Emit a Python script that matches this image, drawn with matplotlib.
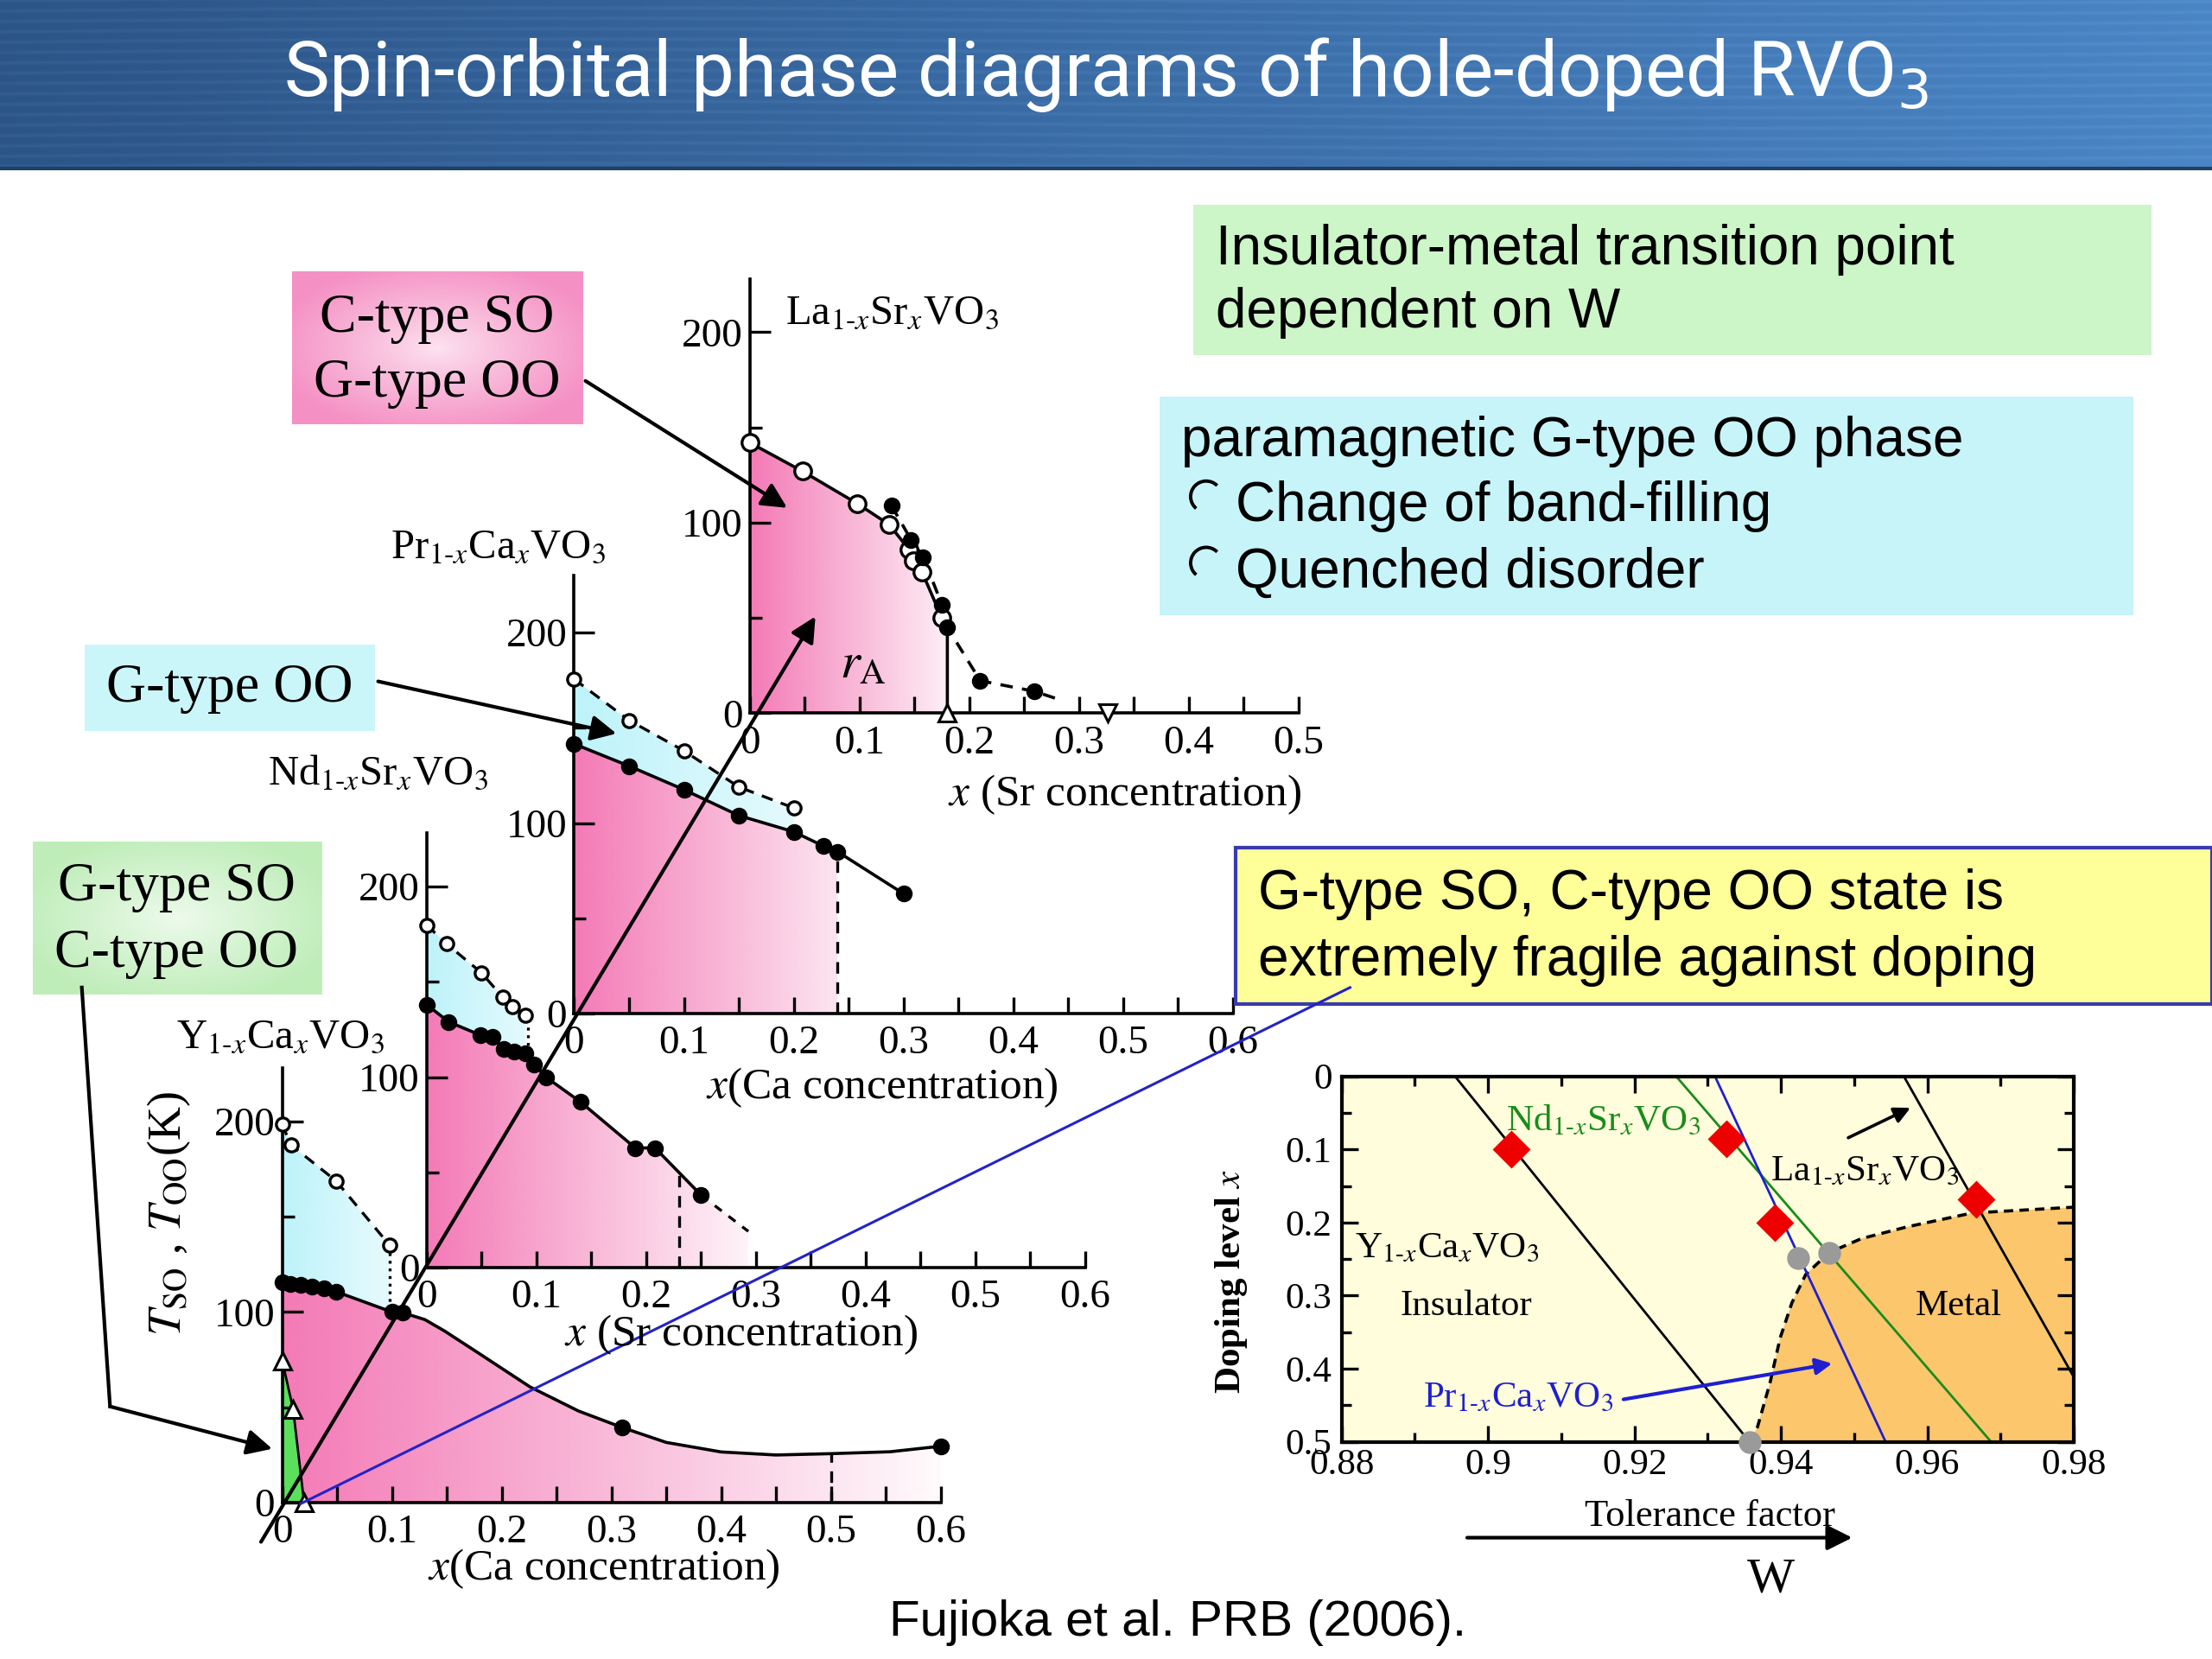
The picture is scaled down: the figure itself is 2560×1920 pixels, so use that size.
import numpy as np
import matplotlib
matplotlib.use('Agg')
import matplotlib.pyplot as plt
from matplotlib.patches import Polygon, Rectangle, Arc
from matplotlib.colors import to_rgb

plt.rcParams['font.family'] = ['Liberation Serif', 'DejaVu Serif']
plt.rcParams['mathtext.fontset'] = 'stix'

# layout grid of the slide (reference pixels, y downwards)
W, H = 1568, 1176
PX = 778.0   # px per unit of x in the four T-x panels
PY = 1.35    # px per kelvin

# ---------------- data ----------------
# La(1-x)Sr(x)VO3
la_open_x = [0, 0.048, 0.098, 0.127, 0.145, 0.149, 0.157, 0.175]
la_open_t = [142, 127, 110, 99, 86, 80, 74, 50]
la_fill_x = [0.129, 0.147, 0.158, 0.175, 0.180, 0.21, 0.259]
la_fill_t = [109, 91, 82, 57, 45, 17, 11.5]
la_solid_x = la_open_x + [0.180, 0.180]
la_solid_t = la_open_t + [42, 0]
la_dash_x = la_fill_x + [0.28]
la_dash_t = la_fill_t + [7.5]
la_tri_up = (0.18, 0)
la_tri_down = (0.326, 0)

# Pr(1-x)Ca(x)VO3
pr_open_x = [0, 0.05, 0.10, 0.15, 0.20]
pr_open_t = [175.6, 154, 138, 119, 108]
pr_fill_x = [0, 0.05, 0.10, 0.15, 0.20, 0.227, 0.24, 0.30]
pr_fill_t = [141.6, 130, 117.6, 104, 95.5, 88, 85, 63]
pr_xc = 0.24

# Nd(1-x)Sr(x)VO3
nd_open_x = [0, 0.018, 0.05, 0.069, 0.078, 0.09]
nd_open_t = [179.8, 170, 154.7, 142, 137, 132.5]
nd_fill_x = [0, 0.02, 0.049, 0.06, 0.07, 0.08, 0.09, 0.098, 0.109, 0.14, 0.19, 0.208, 0.25]
nd_fill_t = [138, 129, 122, 121, 114.8, 113.5, 112.3, 106.6, 99.8, 87, 62.8, 62.8, 38]
nd_tail_x = [0.25, 0.293]
nd_tail_t = [38, 19]
nd_xc = 0.23

# Y(1-x)Ca(x)VO3
y_open_x = [0, 0.008, 0.049, 0.098]
y_open_t = [198.5, 187.7, 168.9, 135]
y_fill_x = [0, 0.0075, 0.017, 0.027, 0.038, 0.049, 0.10, 0.11, 0.31, 0.60]
y_fill_t = [115.5, 114.9, 114.4, 113.3, 112.2, 110.7, 100, 99.6, 39.3, 29.5]
y_curve_x = [0.11, 0.13, 0.148, 0.18, 0.226, 0.27, 0.31, 0.35, 0.40, 0.45, 0.50, 0.554, 0.60]
y_curve_t = [99.6, 96, 90, 78, 60.6, 48, 39.3, 31.5, 26.5, 24.9, 25.6, 26.6, 29.5]
y_tri_x = [0, 0.01, 0.02]
y_tri_t = [74.5, 49, 0]
y_xc = 0.50

# tolerance factor vs doping level
t_y_line = ([0.8955, 0.9357], [0, 0.5])
t_nd_line = ([0.9257, 0.9687], [0, 0.5])
t_pr_line = ([0.9310, 0.9543], [0, 0.5])
t_la_line = ([0.9568, 0.9850], [0, 0.5])
t_red_x = [0.9032, 0.9325, 0.9392, 0.9667]
t_red_dop = [0.10, 0.085, 0.20, 0.168]
t_grey_x = [0.9357, 0.9424, 0.9466]
t_grey_dop = [0.5, 0.249, 0.241]
t_bound_x = [0.9357, 0.9368, 0.9385, 0.9399, 0.9415, 0.9434, 0.9466, 0.951, 0.9572, 0.9661, 0.98]
t_bound_dop = [0.5, 0.48, 0.42, 0.358, 0.31, 0.271, 0.241, 0.222, 0.206, 0.187, 0.179]

PINK = '#F47AB6'
CYAN = '#BDF3FA'
SUB = '$_{1‐x}$'   # subscript "1-x" with a real hyphen


def formula(a, b):
    return a + SUB + b + '$_x$VO$_3$'


fig = plt.figure(figsize=(12.8, 9.6), dpi=200)


def grad_fill(ax, xs, ys, color, x_end, a0=1.0, a1=0.0):
    poly = Polygon(np.column_stack([xs, ys]), closed=True, facecolor='none', edgecolor='none')
    ax.add_patch(poly)
    img = np.zeros((2, 256, 4))
    img[..., :3] = to_rgb(color)
    img[..., 3] = np.linspace(a0, a1, 256)
    im = ax.imshow(img, extent=[0, x_end, 0, 260], aspect='auto', interpolation='bilinear', zorder=0.5)
    im.set_clip_path(poly)


def make_panel(ox, oy, xmax, ymax):
    ax = fig.add_axes([ox / W, 1 - oy / H, xmax * PX / W, ymax * PY / H])
    ax.patch.set_alpha(0)
    for s in ['top', 'right']:
        ax.spines[s].set_visible(False)
    for s in ['left', 'bottom']:
        ax.spines[s].set_linewidth(1.3)
    xt = np.round(np.arange(0, xmax + 0.001, 0.1), 2)
    ax.set_xticks(xt)
    ax.set_xticklabels(['0' if v == 0 else '%.1f' % v for v in xt])
    ax.set_xticks(np.round(np.arange(0.05, xmax, 0.1), 2), minor=True)
    ax.set_yticks([0, 100, 200])
    ax.set_yticklabels(['0', '100', '200'])
    ax.set_yticks([50, 150], minor=True)
    ax.tick_params(which='both', direction='in', width=1.2, labelsize=17)
    ax.tick_params(axis='y', which='major', length=8.5, pad=3)
    ax.tick_params(axis='y', which='minor', length=5)
    ax.tick_params(axis='x', which='both', length=7, pad=5)
    return ax


def finish(ax, xmax, ymax):
    ax.set_xlim(0, xmax)
    ax.set_ylim(0, ymax)


mk_f = dict(marker='o', ms=6, mfc='k', mec='k', ls='none', zorder=4, clip_on=False)
mk_o = dict(marker='o', ms=5.5, mfc='white', mec='k', mew=1.2, ls='none', zorder=4, clip_on=False)
mk_t = dict(ms=7, mfc='white', mec='k', mew=1.1, ls='none', zorder=5, clip_on=False)

# ---- La panel ----
ax_la = make_panel(531.5, 505.5, 0.5, 228)
grad_fill(ax_la, [0] + la_solid_x, [0] + la_solid_t, PINK, 0.2, 1.0, 0.03)
ax_la.plot(la_solid_x, la_solid_t, 'k-', lw=1.3, clip_on=False)
ax_la.plot(la_dash_x, la_dash_t, 'k--', lw=1.3, dashes=(4, 3), clip_on=False)
ax_la.plot(la_open_x, la_open_t, **dict(mk_o, ms=7))
ax_la.plot(la_fill_x, la_fill_t, **mk_f)
ax_la.plot(*la_tri_up, marker='^', **mk_t)
ax_la.plot(*la_tri_down, marker='v', **mk_t)
finish(ax_la, 0.5, 228)

# ---- Pr panel ----
ax_pr = make_panel(407, 718.5, 0.6, 230)
k = pr_fill_x.index(pr_xc)
grad_fill(ax_pr, [0] + pr_fill_x[:k + 1] + [pr_xc], [0] + pr_fill_t[:k + 1] + [0], PINK, 0.30, 1.0, 0.0)
grad_fill(ax_pr, pr_open_x + pr_fill_x[:5][::-1], pr_open_t + pr_fill_t[:5][::-1], CYAN, 0.22, 1.0, 0.35)
ax_pr.plot(pr_fill_x, pr_fill_t, 'k-', lw=1.3, clip_on=False)
ax_pr.plot(pr_open_x, pr_open_t, 'k--', lw=1.2, dashes=(4, 3), clip_on=False)
ax_pr.plot([pr_xc, pr_xc], [0, pr_fill_t[k]], 'k--', lw=1.2, dashes=(4, 3))
ax_pr.plot(pr_open_x, pr_open_t, **mk_o)
ax_pr.plot(pr_fill_x, pr_fill_t, **mk_f)
finish(ax_pr, 0.6, 230)

# ---- Nd panel ----
ax_nd = make_panel(302.5, 898.5, 0.6, 228)
grad_fill(ax_nd, [0] + nd_fill_x + nd_tail_x[1:] + [nd_tail_x[1]], [0] + nd_fill_t + nd_tail_t[1:] + [0],
          PINK, 0.32, 1.0, 0.0)
grad_fill(ax_nd, nd_open_x + nd_fill_x[:7][::-1], nd_open_t + nd_fill_t[:7][::-1], CYAN, 0.10, 1.0, 0.35)
ax_nd.plot(nd_fill_x, nd_fill_t, 'k-', lw=1.3, clip_on=False)
ax_nd.plot(nd_tail_x, nd_tail_t, 'k--', lw=1.2, dashes=(3, 3))
ax_nd.plot(nd_open_x, nd_open_t, 'k--', lw=1.2, dashes=(4, 3), clip_on=False)
ax_nd.plot([0.092, 0.092], [130, 110], 'k:', lw=1.2)
ax_nd.plot([nd_xc, nd_xc], [0, 50], 'k--', lw=1.2, dashes=(4, 3))
ax_nd.plot(nd_open_x, nd_open_t, **mk_o)
ax_nd.plot(nd_fill_x, nd_fill_t, **mk_f)
finish(ax_nd, 0.6, 228)

# ---- Y panel ----
ax_y = make_panel(200, 1065, 0.6, 228)
y_top_x = y_fill_x[:7] + y_curve_x
y_top_t = y_fill_t[:7] + y_curve_t
grad_fill(ax_y, [0] + y_top_x + [0.6], [0] + y_top_t + [0], PINK, 0.62, 1.0, 0.0)
grad_fill(ax_y, y_open_x + [0.098] + y_fill_x[:6][::-1], y_open_t + [100] + y_fill_t[:6][::-1],
          CYAN, 0.10, 1.0, 0.35)
ax_y.add_patch(Polygon(np.column_stack([[0] + y_tri_x, [0] + y_tri_t]), closed=True,
                       facecolor='#5BE05B', edgecolor='k', lw=1.0, zorder=1.5))
ax_y.plot(y_top_x, y_top_t, 'k-', lw=1.3, clip_on=False)
ax_y.plot(y_open_x, y_open_t, 'k--', lw=1.2, dashes=(4, 3), clip_on=False)
ax_y.plot([0.098, 0.098], [135, 102], 'k:', lw=1.2)
ax_y.plot([y_xc, y_xc], [0, 25.6], 'k--', lw=1.2, dashes=(4, 3))
ax_y.plot(y_open_x, y_open_t, **mk_o)
ax_y.plot(y_fill_x, y_fill_t, **mk_f)
ax_y.plot(y_tri_x, y_tri_t, marker='^', **mk_t)
finish(ax_y, 0.6, 228)

# ---- tolerance factor panel ----
ax_t = fig.add_axes([951 / W, 1 - 1022 / H, 519 / W, 259 / H])
ax_t.set_facecolor('#FFFDDC')
ax_t.fill(t_bound_x + [0.98], t_bound_dop + [0.5], color='#FBC66C', lw=0, zorder=0.5)
ax_t.plot(t_bound_x, t_bound_dop, 'k--', lw=1.3, dashes=(3, 2), zorder=2)
ax_t.plot(*t_y_line, color='k', lw=1.0)
ax_t.plot(*t_nd_line, color='#1A8C1A', lw=1.0)
ax_t.plot(*t_pr_line, color='#1F1FD0', lw=1.0)
ax_t.plot(*t_la_line, color='k', lw=1.0)
ax_t.plot(t_red_x, t_red_dop, 'D', ms=10, color='#EE0000', zorder=5)
ax_t.plot(t_grey_x, t_grey_dop, 'o', ms=8.5, color='#9A9A9A', zorder=5, clip_on=False)
ax_t.set_xlim(0.88, 0.98)
ax_t.set_ylim(0.5, 0)
ax_t.set_xticks([0.88, 0.90, 0.92, 0.94, 0.96, 0.98])
ax_t.set_xticklabels(['0.88', '0.9', '0.92', '0.94', '0.96', '0.98'])
ax_t.set_xticks(np.arange(0.89, 0.98, 0.02), minor=True)
ax_t.set_yticks([0, 0.1, 0.2, 0.3, 0.4, 0.5])
ax_t.set_yticklabels(['0', '0.1', '0.2', '0.3', '0.4', '0.5'])
ax_t.set_yticks([0.05, 0.15, 0.25, 0.35, 0.45], minor=True)
ax_t.tick_params(which='both', direction='in', top=True, right=True, width=1.2, labelsize=15.5)
ax_t.tick_params(which='major', length=7, pad=4)
ax_t.tick_params(which='minor', length=4)
ax_t.tick_params(axis='x', pad=3)
for s in ax_t.spines.values():
    s.set_linewidth(1.5)
ax_t.text(0.9025, 0.062, formula('Nd', 'Sr'), color='#1A8C1A', fontsize=15.5, va='center')
ax_t.text(0.9386, 0.13, formula('La', 'Sr'), color='k', fontsize=15.5, va='center')
ax_t.text(0.8818, 0.236, formula('Y', 'Ca'), color='k', fontsize=15.5, va='center')
ax_t.text(0.8970, 0.314, 'Insulator', fontsize=15.5, ha='center', va='center')
ax_t.text(0.9643, 0.314, 'Metal', fontsize=15.5, ha='center', va='center')
ax_t.text(0.8911, 0.44, formula('Pr', 'Ca'), color='#1F1FD0', fontsize=15.5, va='center')
ax_t.annotate('', xy=(0.947, 0.393), xytext=(0.9185, 0.442),
              arrowprops=dict(arrowstyle='-|>', color='#1F1FD0', lw=1.5, mutation_scale=14, shrinkA=0, shrinkB=0))
ax_t.annotate('', xy=(0.9577, 0.043), xytext=(0.9492, 0.084),
              arrowprops=dict(arrowstyle='-|>', color='k', lw=1.3, mutation_scale=14, shrinkA=0, shrinkB=0))

# ---------------- slide overlay (reference pixel coordinates) ----------------
ov = fig.add_axes([0, 0, 1, 1], zorder=10)
ov.patch.set_alpha(0)
ov.axis('off')

# title banner
nx, ny = 400, 120
gx = np.linspace(0, 1, nx)[None, :]
gy = np.arange(ny)[:, None]
left = np.array([0.17, 0.33, 0.53])
right = np.array([0.29, 0.52, 0.77])
band = 0.035 * np.cos(2 * np.pi * (gy / 14.7 + 0.15 * np.sin(gx * 6))) ** 8
banner = left + (right - left) * gx[..., None] + band[..., None]
ov.imshow(np.clip(banner, 0, 1), extent=[0, W, 120, 0], aspect='auto', interpolation='bilinear', zorder=0)
ov.plot([0, W], [119.5, 119.5], color='#1E3F66', lw=1.5)
ov.text(784, 53, 'Spin-orbital phase diagrams of hole-doped RVO$_3$', color='white', fontsize=32,
        family='Roboto', math_fontfamily='dejavusans', ha='center', va='center')


def radial_box(x0, y0, x1, y1, color):
    u = np.linspace(-1, 1, 200)
    X, Y = np.meshgrid(u, u)
    r = np.clip(np.sqrt(X ** 2 + Y ** 2) / 1.15, 0, 1) ** 0.9
    c = np.array(to_rgb(color))
    img = 1 - (1 - c) * (0.25 + 0.75 * r[..., None])
    ov.imshow(img, extent=[x0, x1, y1, y0], aspect='auto', interpolation='bilinear', zorder=1)


def flat_box(x0, y0, x1, y1, color, edge='none', lw=0):
    ov.add_patch(Rectangle((x0, y0), x1 - x0, y1 - y0, facecolor=color, edgecolor=edge, lw=lw, zorder=1))


radial_box(207, 193, 413, 301, '#F590C4')
ov.text(310, 226, 'C-type SO', fontsize=23, ha='center', va='center', zorder=3)
ov.text(310, 272, 'G-type OO', fontsize=23, ha='center', va='center', zorder=3)

flat_box(60, 457, 266, 518, '#CAF6FA')
ov.text(163, 488, 'G-type OO', fontsize=23, ha='center', va='center', zorder=3)

radial_box(23, 597, 228, 705, '#BEEDB8')
ov.text(125, 629, 'G-type SO', fontsize=23, ha='center', va='center', zorder=3)
ov.text(125, 676, 'C-type OO', fontsize=23, ha='center', va='center', zorder=3)

sans = dict(family='Liberation Sans', fontsize=23, va='center', zorder=3)
flat_box(846, 145, 1525, 252, '#CCF5C8')
ov.text(862, 177, 'Insulator-metal transition point', **sans)
ov.text(862, 222, 'dependent on W', **sans)

flat_box(822, 281, 1512, 436, '#C6F4F9')
ov.text(837, 313, 'paramagnetic G-type OO phase', **sans)
ov.text(876, 359, 'Change of band-filling', **sans)
ov.text(876, 406, 'Quenched disorder', **sans)
for by in (352, 399):
    ov.add_patch(Arc((855, by), 22, 22, theta1=130, theta2=315, color='k', lw=1.4, zorder=3))

flat_box(876, 601, 1568, 712, '#FFFF99', edge='#3A3AB0', lw=1.5)
ov.text(892, 634, 'G-type SO, C-type OO state is', **sans)
ov.text(892, 681, 'extremely fragile against doping', **sans)

ov.text(835, 1150, 'Fujioka et al. PRB (2006).', family='Liberation Sans', fontsize=21, ha='center', va='center')

# panel titles and axis labels
ov.text(557, 222, formula('La', 'Sr'), fontsize=17.5, va='center')
ov.text(277, 388, formula('Pr', 'Ca'), fontsize=17.5, va='center')
ov.text(190, 548, formula('Nd', 'Sr'), fontsize=17.5, va='center')
ov.text(125, 735, formula('Y', 'Ca'), fontsize=17.5, va='center')
ov.text(797, 563, r'$x$ (Sr concentration)', fontsize=18.5, ha='center', va='center')
ov.text(625, 771, r'$x$(Ca concentration)', fontsize=18.5, ha='center', va='center')
ov.text(525, 946, r'$x$ (Sr concentration)', fontsize=18.5, ha='center', va='center')
ov.text(428, 1112, r'$x$(Ca concentration)', fontsize=18.5, ha='center', va='center')
ov.text(120, 860, r'$T_{\rm SO}$ , $T_{\rm OO}$(K)', fontsize=19.5, rotation=90, ha='center', va='center')
ov.text(612, 472, r'$r_{\rm A}$', fontsize=21, ha='center', va='center')

ov.text(873, 908, r'Doping level $x$', fontsize=15.5, fontweight='bold', rotation=90, ha='center', va='center')
ov.text(1212, 1075, 'Tolerance factor', fontsize=16, ha='center', va='center')
ov.text(1255, 1120, 'W', fontsize=21, ha='center', va='center')

# arrows and guide lines
arr = dict(arrowstyle='-|>', color='k', lw=1.5, mutation_scale=22, shrinkA=0, shrinkB=0)
ov.annotate('', xy=(558, 360), xytext=(415, 270), arrowprops=arr)
ov.annotate('', xy=(437, 520), xytext=(268, 483), arrowprops=arr)
ov.plot([58, 78], [700, 997], color='k', lw=1.5)
ov.annotate('', xy=(193, 1027), xytext=(78, 997), arrowprops=arr)
ov.annotate('', xy=(578, 437), xytext=(185, 1093), arrowprops=arr)
ov.plot([213, 957], [1066, 700], color='#2323C8', lw=1.1)
ov.annotate('', xy=(1313, 1090), xytext=(1040, 1090), arrowprops=arr)

ov.set_xlim(0, W)
ov.set_ylim(H, 0)

fig.savefig('out.png', dpi=200, facecolor='white')
